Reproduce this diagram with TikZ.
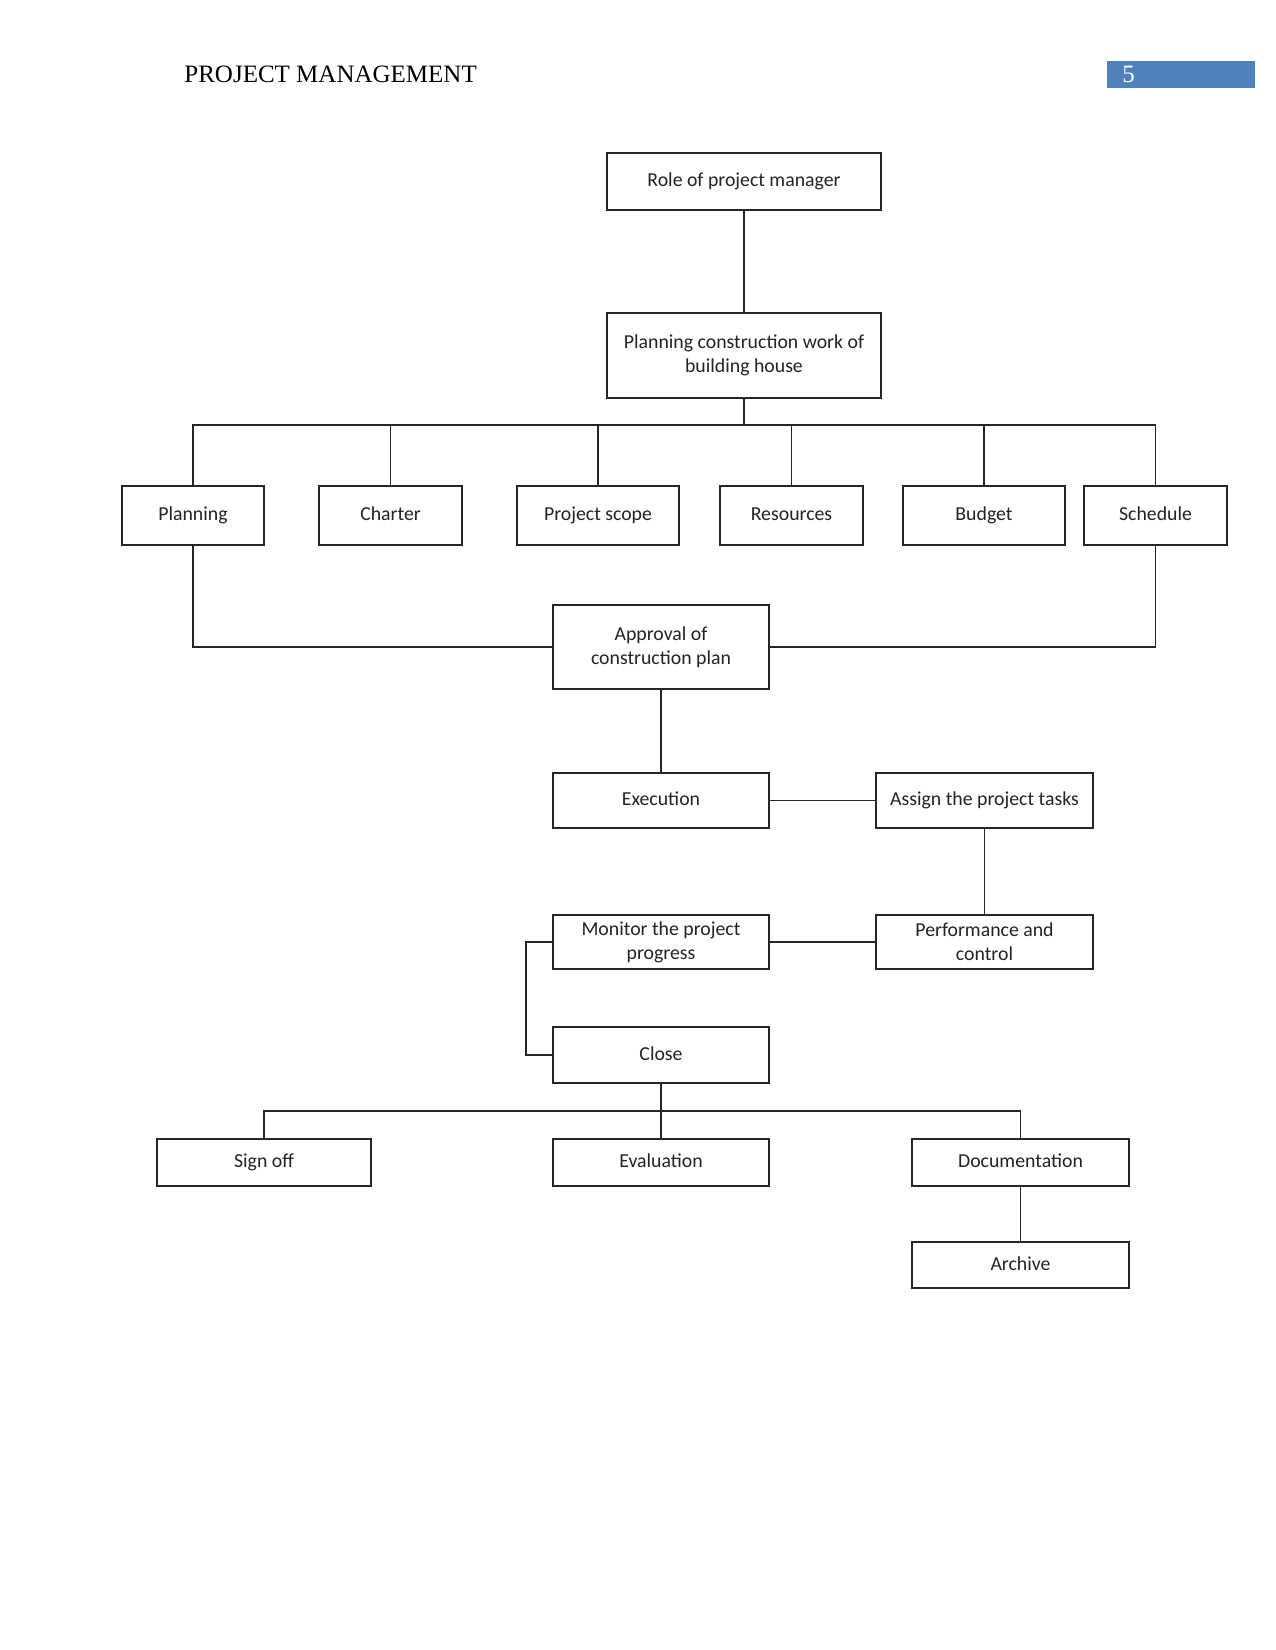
\documentclass[tikz,border=0pt]{standalone}
\usepackage{fontspec}
\setmainfont{Carlito}
\newfontfamily\hdrfont{Liberation Serif}
\definecolor{hdrblue}{RGB}{79,129,189}
\definecolor{txt}{RGB}{35,35,35}
\begin{document}
\begin{tikzpicture}[x=0.48pt,y=-0.48pt,
  bx/.style 2 args={draw=black!85, line width=0.8pt, rectangle, inner sep=0pt,
     minimum width=#1*0.48pt, minimum height=#2*0.48pt, align=center,
     font=\fontsize{9.5}{11.6}\selectfont, text=txt},
  oneline/.style={text height=7pt, text depth=2pt},
  conn/.style={draw=black!85, line width=0.6pt}]
\useasboundingbox (0,0) rectangle (1275,1650);
\fill[white] (0,0) rectangle (1275,1650);
% header
\node[anchor=base west, inner sep=0pt, font=\hdrfont\fontsize{12}{14}\selectfont] (hdr) at (184,83) {PROJECT MANAGEMENT};
\node[fill=hdrblue, inner sep=0pt, minimum width=148*0.48pt, minimum height=27*0.48pt] (pg) at (1181,74.5) {};
\node[anchor=base west, inner sep=0pt, text=white, font=\hdrfont\fontsize{12}{14}\selectfont] (pgnum) at (1122,83) {5};
% nodes
\node[bx={274}{57}, oneline] (role) at (744,181.5) {Role of project manager};
\node[bx={274}{85}] (pcw) at (744,355.5) {Planning construction work of\\building house};
\node[bx={142}{59}, oneline] (plan) at (193,515.5) {Planning};
\node[bx={143}{59}, oneline] (charter) at (390.5,515.5) {Charter};
\node[bx={162}{59}, oneline] (scope) at (598,515.5) {Project scope};
\node[bx={143}{59}, oneline] (res) at (791.5,515.5) {Resources};
\node[bx={162}{59}, oneline] (budget) at (984,515.5) {Budget};
\node[bx={143}{59}, oneline] (sched) at (1155.5,515.5) {Schedule};
\node[bx={216}{84}] (appr) at (661,647) {Approval of\\construction plan};
\node[bx={216}{55}, oneline] (exec) at (661,800.5) {Execution};
\node[bx={217}{55}, oneline] (assign) at (984.5,800.5) {Assign the project tasks};
\node[bx={216}{54}] (mon) at (661,942) {Monitor the project\\progress};
\node[bx={217}{54}] (perf) at (984.5,942) {Performance and\\control};
\node[bx={216}{56}, oneline] (close) at (661,1055) {Close};
\node[bx={214}{47}, oneline] (sign) at (264,1162.5) {Sign off};
\node[bx={216}{47}, oneline] (eval) at (661,1162.5) {Evaluation};
\node[bx={217}{47}, oneline] (doc) at (1020.5,1162.5) {Documentation};
\node[bx={217}{46}, oneline] (arch) at (1020.5,1265) {Archive};
% connectors
\coordinate (bus) at (744,425);
\coordinate (bus2) at (661,1111);
\coordinate (lb) at (526,942);
\draw[conn] (role.south) -- (pcw.north);
\draw[conn] (pcw.south) -- (bus);
\draw[conn] (plan.north) |- (bus) -| (sched.north);
\draw[conn] (charter.north) -- (charter.north |- bus);
\draw[conn] (scope.north) -- (scope.north |- bus);
\draw[conn] (res.north) -- (res.north |- bus);
\draw[conn] (budget.north) -- (budget.north |- bus);
\draw[conn] (plan.south) |- (appr.west);
\draw[conn] (sched.south) |- (appr.east);
\draw[conn] (appr.south) -- (exec.north);
\draw[conn] (exec.east) -- (assign.west);
\draw[conn] (assign.south) -- (perf.north);
\draw[conn] (perf.west) -- (mon.east);
\draw[conn] (mon.west) -- (lb) |- (close.west);
\draw[conn] (close.south) -- (eval.north);
\draw[conn] (sign.north) |- (bus2) -| (doc.north);
\draw[conn] (doc.south) -- (arch.north);
\end{tikzpicture}
\end{document}
